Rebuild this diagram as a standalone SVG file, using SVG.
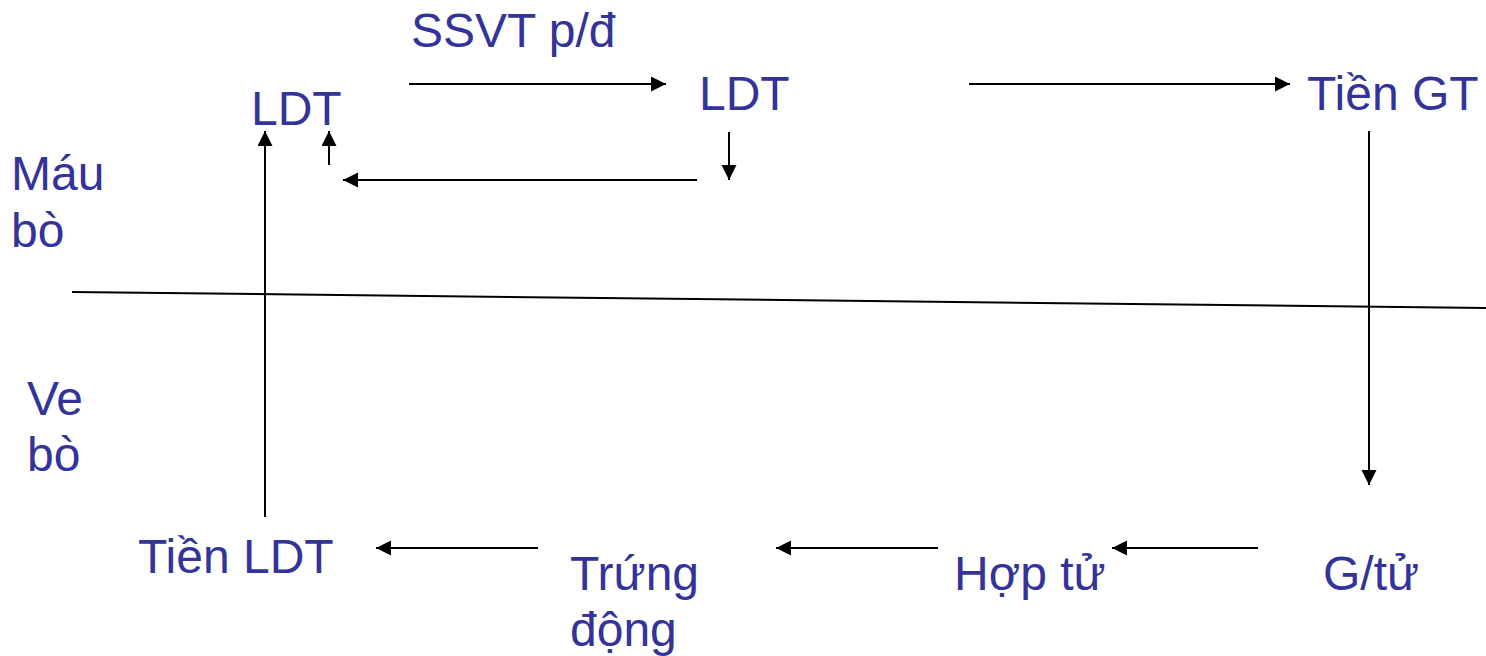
<svg xmlns="http://www.w3.org/2000/svg" width="1486" height="656" viewBox="0 0 1486 656">
<style>
text{font-family:"Liberation Sans",Arial,sans-serif;font-size:48px;fill:#333399}
.c line{stroke:#000;stroke-width:2;fill:none}
</style>
<defs>
<marker id="ah" markerUnits="userSpaceOnUse" markerWidth="16" markerHeight="16" refX="15" refY="7.5" orient="auto">
<path d="M0,0 L15,7.5 L0,15 Z" fill="#000"/>
</marker>
</defs>
<rect width="1486" height="656" fill="#fff"/>
<g class="c" id="connectors">
<line x1="72" y1="292" x2="1486" y2="308"/>
<line x1="409" y1="84" x2="666" y2="84" marker-end="url(#ah)"/>
<line x1="969" y1="84" x2="1290" y2="84" marker-end="url(#ah)"/>
<line x1="729" y1="132" x2="729" y2="180" marker-end="url(#ah)"/>
<line x1="697" y1="180" x2="343" y2="180" marker-end="url(#ah)"/>
<line x1="329" y1="165" x2="329" y2="131" marker-end="url(#ah)"/>
<line x1="265" y1="517" x2="265" y2="131" marker-end="url(#ah)"/>
<line x1="1369" y1="131" x2="1369" y2="485" marker-end="url(#ah)"/>
<line x1="538" y1="548" x2="376" y2="548" marker-end="url(#ah)"/>
<line x1="938" y1="548" x2="776" y2="548" marker-end="url(#ah)"/>
<line x1="1258" y1="548" x2="1112" y2="548" marker-end="url(#ah)"/>
</g>
<g id="ssvt"><text x="411" y="47">SSVT p/đ</text></g>
<g id="ldt1"><text x="251" y="125">LDT</text></g>
<g id="ldt2"><text x="699" y="110">LDT</text></g>
<g id="tiengt"><text x="1307" y="110">Tiền GT</text></g>
<g id="maubo"><text x="11" y="190">Máu</text><text x="11" y="247">bò</text></g>
<g id="vebo"><text x="27" y="415">Ve</text><text x="27" y="471">bò</text></g>
<g id="tienldt"><text x="138" y="573">Tiền LDT</text></g>
<g id="trung"><text x="570" y="590">Trứng</text><text x="570" y="646">động</text></g>
<g id="hoptu"><text x="954" y="590">Hợp tử</text></g>
<g id="gtu"><text x="1323" y="590">G/tử</text></g>
</svg>
